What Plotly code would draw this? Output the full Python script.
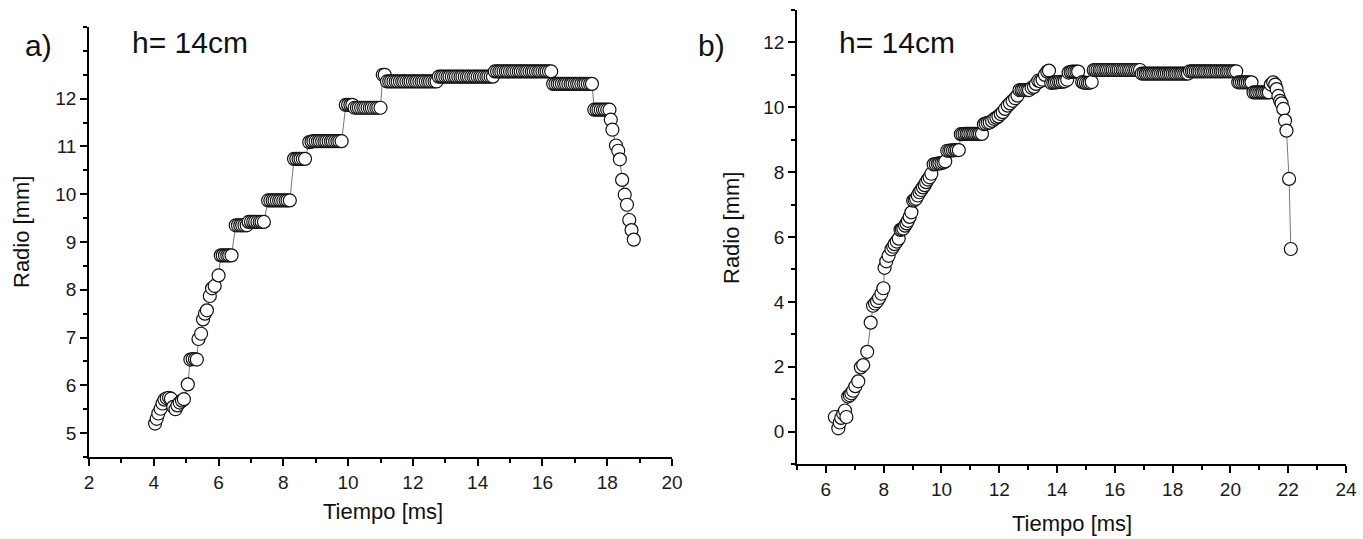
import plotly.graph_objects as go

# ---------------- data: panel a) ----------------
left_t = [4.04, 4.09, 4.14, 4.21, 4.27, 4.33, 4.40, 4.47, 4.53, 4.60, 4.67, 4.73, 4.80, 4.87, 4.93,
          5.05, 5.13, 5.20, 5.27, 5.33, 5.38, 5.46, 5.52, 5.58, 5.64, 5.73, 5.80, 5.88, 6.00,
          6.07, 6.13, 6.20, 6.27, 6.33, 6.40,
          6.53, 6.60, 6.67, 6.73, 6.80, 6.87,
          6.93, 7.00, 7.07, 7.13, 7.20, 7.27, 7.33, 7.40,
          7.53, 7.60, 7.67, 7.73, 7.80, 7.87, 7.93, 8.00, 8.07, 8.13, 8.20,
          8.33, 8.40, 8.47, 8.53, 8.60, 8.67,
          8.80, 8.87, 8.93, 9.00, 9.07, 9.13, 9.20, 9.27, 9.33, 9.40, 9.47, 9.53, 9.60, 9.67, 9.73, 9.80,
          9.93, 10.00, 10.07, 10.13,
          10.20, 10.27, 10.33, 10.40, 10.47, 10.53, 10.60, 10.67, 10.73, 10.80, 10.87, 10.93, 11.00,
          11.07, 11.13,
          11.20, 11.27, 11.33, 11.40, 11.47, 11.53, 11.60, 11.67, 11.73, 11.80, 11.87, 11.93, 12.00,
          12.07, 12.13, 12.20, 12.27, 12.33, 12.40, 12.47, 12.53, 12.60, 12.67, 12.73,
          12.80, 12.87, 12.93, 13.00, 13.07, 13.13, 13.20, 13.27, 13.33, 13.40, 13.47, 13.53, 13.60,
          13.67, 13.73, 13.80, 13.87, 13.93, 14.00, 14.07, 14.13, 14.20, 14.27, 14.33, 14.40, 14.47,
          14.53, 14.60, 14.67, 14.73, 14.80, 14.87, 14.93, 15.00, 15.07, 15.13, 15.20, 15.27, 15.33,
          15.40, 15.47, 15.53, 15.60, 15.67, 15.73, 15.80, 15.87, 15.93, 16.00, 16.07, 16.13, 16.20, 16.27,
          16.33, 16.40, 16.47, 16.53, 16.60, 16.67, 16.73, 16.80, 16.87, 16.93, 17.00, 17.07, 17.13,
          17.20, 17.27, 17.33, 17.40, 17.47, 17.53,
          17.60, 17.67, 17.73, 17.80, 17.87, 17.93, 18.00, 18.07,
          18.11, 18.16, 18.27, 18.34, 18.39, 18.46, 18.54, 18.61, 18.68, 18.75, 18.82]
left_r = [5.20, 5.30, 5.41, 5.51, 5.62, 5.70, 5.73, 5.74, 5.72, 5.55, 5.50, 5.58, 5.64, 5.68, 5.71,
          6.02, 6.54, 6.55, 6.55, 6.54, 6.97, 7.08, 7.38, 7.50, 7.57, 7.87, 8.03, 8.08, 8.30,
          8.72, 8.72, 8.72, 8.72, 8.72, 8.72,
          9.35, 9.35, 9.35, 9.35, 9.35, 9.35,
          9.42, 9.42, 9.42, 9.42, 9.42, 9.42, 9.42, 9.42,
          9.87, 9.87, 9.87, 9.87, 9.87, 9.87, 9.87, 9.87, 9.87, 9.87, 9.87,
          10.74, 10.74, 10.74, 10.74, 10.74, 10.74,
          11.09, 11.10, 11.11, 11.11, 11.11, 11.11, 11.11, 11.11, 11.11, 11.11, 11.11, 11.11, 11.11, 11.11, 11.11, 11.11,
          11.87, 11.87, 11.87, 11.87,
          11.81, 11.81, 11.81, 11.81, 11.81, 11.81, 11.81, 11.81, 11.81, 11.81, 11.81, 11.81, 11.81,
          12.50, 12.50,
          12.36, 12.36, 12.36, 12.36, 12.36, 12.36, 12.36, 12.36, 12.36, 12.36, 12.36, 12.36, 12.36,
          12.36, 12.36, 12.36, 12.36, 12.36, 12.36, 12.36, 12.36, 12.36, 12.36, 12.36,
          12.46, 12.46, 12.46, 12.46, 12.46, 12.46, 12.46, 12.46, 12.46, 12.46, 12.46, 12.46, 12.46,
          12.46, 12.46, 12.46, 12.46, 12.46, 12.46, 12.46, 12.46, 12.46, 12.46, 12.46, 12.46, 12.46,
          12.57, 12.57, 12.57, 12.57, 12.57, 12.57, 12.57, 12.57, 12.57, 12.57, 12.57, 12.57, 12.57,
          12.57, 12.57, 12.57, 12.57, 12.57, 12.57, 12.57, 12.57, 12.57, 12.57, 12.57, 12.57, 12.57, 12.57,
          12.31, 12.31, 12.31, 12.31, 12.31, 12.31, 12.31, 12.31, 12.31, 12.31, 12.31, 12.31, 12.31,
          12.31, 12.31, 12.31, 12.31, 12.31, 12.31,
          11.77, 11.77, 11.77, 11.77, 11.77, 11.77, 11.77, 11.77,
          11.56, 11.35, 11.02, 10.91, 10.73, 10.30, 9.99, 9.78, 9.46, 9.25, 9.05]

# ---------------- data: panel b) ----------------
right_t = [6.31, 6.43, 6.48, 6.53, 6.60, 6.66, 6.71, 6.77, 6.83, 6.88, 6.94, 7.02, 7.12,
           7.21, 7.29, 7.43, 7.55, 7.63, 7.70, 7.77, 7.84, 7.92, 7.99,
           8.03, 8.09, 8.17, 8.27, 8.33, 8.38, 8.45, 8.52, 8.58, 8.63, 8.68, 8.74, 8.79, 8.84, 8.90, 8.96,
           9.02, 9.07, 9.12, 9.18, 9.24, 9.30, 9.36, 9.42, 9.47, 9.53, 9.59, 9.65,
           9.73, 9.80, 9.87, 9.93, 10.00, 10.07, 10.13,
           10.20, 10.27, 10.33, 10.40, 10.47, 10.53, 10.60,
           10.67, 10.73, 10.80, 10.87, 10.93, 11.00, 11.07, 11.13, 11.20, 11.27, 11.33, 11.40,
           11.47, 11.53, 11.60, 11.67,
           11.75, 11.83, 11.90, 11.97, 12.05, 12.12, 12.20, 12.29, 12.37, 12.46, 12.55, 12.63,
           12.70, 12.77, 12.83, 12.90, 12.97, 13.03,
           13.12, 13.20, 13.27, 13.35, 13.42, 13.50, 13.58, 13.66, 13.72,
           13.80, 13.87, 13.93, 14.00, 14.07, 14.13, 14.20, 14.27, 14.35,
           14.40, 14.47, 14.53, 14.60, 14.67, 14.73,
           14.87, 14.93, 15.00, 15.07, 15.13, 15.20,
           15.27, 15.33, 15.40, 15.47, 15.53, 15.60, 15.67, 15.73, 15.80, 15.87, 15.93, 16.00, 16.07,
           16.13, 16.20, 16.27, 16.33, 16.40, 16.47, 16.53, 16.60, 16.67, 16.73, 16.80, 16.87,
           16.93, 17.00, 17.07, 17.13, 17.20, 17.27, 17.33, 17.40, 17.47, 17.53, 17.60, 17.67, 17.73,
           17.80, 17.87, 17.93, 18.00, 18.07, 18.13, 18.20, 18.27, 18.33, 18.40, 18.47, 18.53,
           18.60, 18.67, 18.73, 18.80, 18.87, 18.93, 19.00, 19.07, 19.13, 19.20, 19.27, 19.33, 19.40,
           19.47, 19.53, 19.60, 19.67, 19.73, 19.80, 19.87, 19.93, 20.00, 20.07, 20.13, 20.20,
           20.27, 20.33, 20.40, 20.47, 20.53, 20.60, 20.67, 20.73,
           20.80, 20.87, 20.93, 21.00, 21.07, 21.13, 21.20, 21.27, 21.33,
           21.40, 21.48, 21.55, 21.60, 21.66, 21.72, 21.77, 21.83, 21.89, 21.94, 22.03, 22.09]
right_r = [0.45, 0.10, 0.28, 0.42, 0.55, 0.65, 0.45, 1.08, 1.12, 1.18, 1.26, 1.40, 1.55,
           1.98, 2.05, 2.46, 3.36, 3.88, 3.95, 4.02, 4.12, 4.25, 4.42,
           5.05, 5.25, 5.42, 5.62, 5.70, 5.78, 5.86, 5.95, 6.22, 6.24, 6.26, 6.35, 6.42, 6.50, 6.62, 6.76,
           7.12, 7.15, 7.18, 7.28, 7.38, 7.45, 7.53, 7.60, 7.69, 7.77, 7.84, 7.95,
           8.24, 8.25, 8.26, 8.27, 8.28, 8.30, 8.33,
           8.66, 8.66, 8.67, 8.67, 8.68, 8.68, 8.68,
           9.17, 9.17, 9.18, 9.18, 9.18, 9.18, 9.18, 9.18, 9.18, 9.18, 9.18, 9.18,
           9.48, 9.50, 9.52, 9.53,
           9.58, 9.64, 9.68, 9.72, 9.79, 9.85, 9.95, 10.05, 10.12, 10.20, 10.28, 10.36,
           10.53, 10.53, 10.53, 10.53, 10.53, 10.53,
           10.60, 10.63, 10.72, 10.82, 10.80, 10.85, 11.00, 11.10, 11.13,
           10.75, 10.76, 10.77, 10.77, 10.78, 10.78, 10.79, 10.80, 10.85,
           11.07, 11.09, 11.10, 11.10, 11.10, 11.10,
           10.78, 10.76, 10.75, 10.75, 10.76, 10.78,
           11.15, 11.15, 11.15, 11.15, 11.15, 11.15, 11.15, 11.15, 11.15, 11.15, 11.15, 11.15, 11.15,
           11.15, 11.15, 11.15, 11.15, 11.15, 11.15, 11.15, 11.15, 11.15, 11.15, 11.15, 11.15,
           11.04, 11.04, 11.04, 11.04, 11.04, 11.04, 11.04, 11.04, 11.04, 11.04, 11.04, 11.04, 11.04,
           11.04, 11.04, 11.04, 11.04, 11.04, 11.04, 11.04, 11.04, 11.04, 11.04, 11.04, 11.04,
           11.11, 11.11, 11.11, 11.11, 11.11, 11.11, 11.11, 11.11, 11.11, 11.11, 11.11, 11.11, 11.11,
           11.11, 11.11, 11.11, 11.11, 11.11, 11.11, 11.11, 11.11, 11.11, 11.11, 11.11, 11.11,
           10.77, 10.77, 10.77, 10.77, 10.77, 10.77, 10.77, 10.77,
           10.46, 10.46, 10.46, 10.46, 10.46, 10.46, 10.46, 10.46, 10.46,
           10.70, 10.77, 10.70, 10.56, 10.35, 10.20, 10.12, 9.95, 9.59, 9.28, 7.79, 5.63]

# ---------------- tick settings ----------------
left_x_ticks = [2, 4, 6, 8, 10, 12, 14, 16, 18, 20]
left_y_ticks = [5, 6, 7, 8, 9, 10, 11, 12]
right_x_ticks = [6, 8, 10, 12, 14, 16, 18, 20, 22, 24]
right_y_ticks = [0, 2, 4, 6, 8, 10, 12]

W, H = 1363, 539
FONT = "Liberation Sans, Arial, sans-serif"


def px(x):
    return x / W


def py(y):
    return 1 - y / H


marker = dict(symbol="circle", size=13, color="white", line=dict(color="#111111", width=1.2))
line = dict(color="#777777", width=1)

fig = go.Figure()
fig.add_trace(go.Scatter(x=left_t, y=left_r, mode="lines+markers", marker=marker, line=line,
                         xaxis="x", yaxis="y", showlegend=False, hoverinfo="x+y"))
fig.add_trace(go.Scatter(x=right_t, y=right_r, mode="lines+markers", marker=marker, line=line,
                         xaxis="x2", yaxis="y2", showlegend=False, hoverinfo="x+y"))

axis_common = dict(showline=True, linecolor="black", linewidth=1.5, ticks="outside",
                   ticklen=7, tickwidth=1.5, tickcolor="black", showgrid=False, zeroline=False,
                   tickfont=dict(family=FONT, size=19, color="#1a1a1a"), mirror=False,
                   automargin=False)

fig.update_layout(
    width=W, height=H,
    margin=dict(l=0, r=0, t=0, b=0, pad=0),
    paper_bgcolor="white", plot_bgcolor="white",
    font=dict(family=FONT, color="#111111"),
    xaxis=dict(domain=[px(89), px(672)], range=[2, 20], tickvals=left_x_ticks, anchor="y",
               minor=dict(ticks="outside", ticklen=4, tickwidth=1.5, tickcolor="black", dtick=1, tick0=0),
               **axis_common),
    yaxis=dict(domain=[py(457), py(27)], range=[4.5, 13.5], tickvals=left_y_ticks, anchor="x",
               minor=dict(ticks="outside", ticklen=4, tickwidth=1.5, tickcolor="black", dtick=0.5, tick0=0),
               **axis_common),
    xaxis2=dict(domain=[px(797), px(1346)], range=[5, 24], tickvals=right_x_ticks, anchor="y2",
                minor=dict(ticks="outside", ticklen=4, tickwidth=1.5, tickcolor="black", dtick=1, tick0=0),
                **axis_common),
    yaxis2=dict(domain=[py(464), py(10)], range=[-1, 13], tickvals=right_y_ticks, anchor="x2",
                minor=dict(ticks="outside", ticklen=4, tickwidth=1.5, tickcolor="black", dtick=1, tick0=0),
                **axis_common),
)

ann = []


def add_text(text, x, y, size, angle=0):
    ann.append(dict(text=text, x=px(x), y=py(y), xref="paper", yref="paper", showarrow=False,
                    xanchor="center", yanchor="middle", textangle=angle,
                    font=dict(family=FONT, size=size, color="#111111")))


add_text("a)", 38, 45, 30)
add_text("h= 14cm", 190, 43, 30)
add_text("b)", 711, 45, 30)
add_text("h= 14cm", 897, 43, 30)
add_text("Radio [mm]", 22, 232, 22, -90)
add_text("Radio [mm]", 731, 228, 22, -90)
add_text("Tiempo [ms]", 383, 511, 22)
add_text("Tiempo [ms]", 1072, 523, 22)
fig.update_layout(annotations=ann)

fig.write_html("out.html",
               config={"displayModeBar": False},
               post_script="document.body.style.margin='0';document.body.style.padding='0';"
                           "document.documentElement.style.overflow='hidden';")
